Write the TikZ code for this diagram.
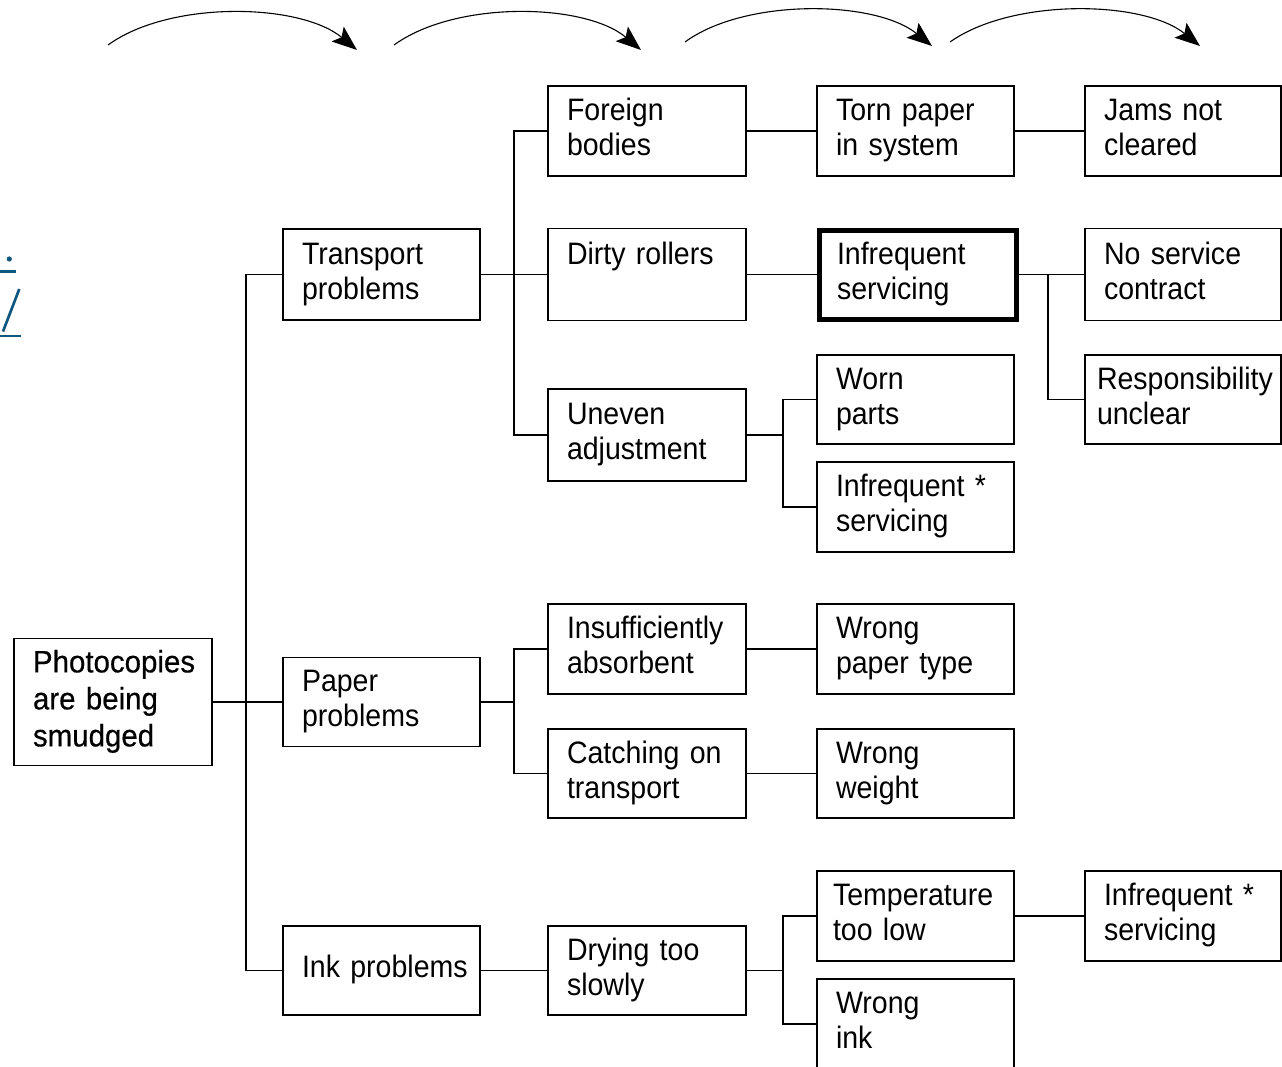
\documentclass[tikz,border=0pt]{standalone}
\usepackage{fontspec}
\setmainfont{Liberation Sans}[FakeStretch=0.92]
\newfontfamily\rootfont{Liberation Sans}[FakeStretch=0.95,FakeBold=0.5]
\usetikzlibrary{arrows.meta}
\definecolor{linkblue}{RGB}{14,88,128}
\begin{document}
\begin{tikzpicture}[x=1pt,y=-1pt,
  box/.style={draw, line width=1.1pt, align=left, inner xsep=19pt, inner ysep=0pt,
    text width=159pt, minimum height=90pt, font=\fontsize{31}{35}\selectfont,
    execute at begin node=\strut, execute at end node=\strut},
  conn/.style={line width=1.1pt},
  arc/.style={line width=1.1pt, -{Stealth[length=25pt,width=19pt,inset=5pt]}}]
\useasboundingbox (0,0) rectangle (1282,1066);

% blue fragment at left edge
\begin{scope}[linkblue, line width=2.7pt]
\fill (9.3,259) circle (2.6pt);
\draw (0,271.5) -- (15.7,271.5);
\draw (3,331.5) -- (19.3,289);
\draw (0,336) -- (20.7,336);
\end{scope}

% top arrows
\coordinate (a1s) at (108,45);  \coordinate (a1e) at (357,50);
\coordinate (a2s) at (394,45);  \coordinate (a2e) at (641,50);
\coordinate (a3s) at (685,42);  \coordinate (a3e) at (932,46);
\coordinate (a4s) at (950,42);  \coordinate (a4e) at (1200,46);
\draw[arc] (a1s) .. controls (170,0) and (300,3) .. (a1e);
\draw[arc] (a2s) .. controls (456,0) and (585,3) .. (a2e);
\draw[arc] (a3s) .. controls (745,-2) and (875,0) .. (a3e);
\draw[arc] (a4s) .. controls (1012,-2) and (1143,0) .. (a4e);

% column 1
\node[box, text width=160pt, minimum height=127pt,
  font=\rootfont\fontsize{31}{37}\selectfont] (root) at (113,702) {Photocopies\\are being\\smudged};
% column 2
\node[box, minimum height=91pt] (transport) at (381.5,274.5) {Transport\\problems};
\node[box, minimum height=89pt] (paper) at (381.5,702) {Paper\\problems};
\node[box, minimum height=89pt] (ink) at (381.5,970.5) {\mbox{Ink problems}};
% column 3
\node[box, text width=160pt] (foreign) at (647,131) {Foreign\\bodies};
\node[box, text width=160pt, minimum height=92pt] (dirty) at (647,274.5) {Dirty rollers\\\mbox{}};
\node[box, text width=160pt, minimum height=92pt] (uneven) at (647,435) {Uneven\\adjustment};
\node[box, text width=160pt] (insuff) at (647,649) {Insufficiently\\absorbent};
\node[box, text width=160pt, minimum height=89pt] (catching) at (647,773.5) {Catching on\\transport};
\node[box, text width=160pt, minimum height=89pt] (drying) at (647,970.5) {Drying too\\slowly};
% column 4
\node[box] (torn) at (915.5,131) {Torn paper\\in system};
\node[box, line width=5pt, inner xsep=17.5pt, text width=162pt, minimum height=89pt] (infreq) at (918,274.5) {Infrequent\\servicing};
\node[box, minimum height=89pt] (worn) at (915.5,399.5) {Worn\\parts};
\node[box] (infb) at (915.5,507) {Infrequent *\\servicing};
\node[box] (wpaper) at (915.5,649) {Wrong\\paper type};
\node[box, minimum height=89pt] (wweight) at (915.5,773.5) {Wrong\\weight};
\node[box, inner xsep=16pt, text width=165pt] (temp) at (915.5,916) {Temperature\\too low};
\node[box] (wink) at (915.5,1024) {Wrong\\ink};
% column 5
\node[box, text width=158pt] (jams) at (1183,131) {Jams not\\cleared};
\node[box, text width=158pt, minimum height=92pt] (noserv) at (1183,274.5) {No service\\contract};
\node[box, inner xsep=12pt, text width=172pt, minimum height=89pt] (resp) at (1183,399.5) {Responsibility\\unclear};
\node[box, text width=158pt] (infc) at (1183,916) {Infrequent *\\servicing};

% bus coordinates
\coordinate (b1) at (246,0);
\coordinate (b2) at (514,0);
\coordinate (b3) at (783,0);
\coordinate (b4) at (1048,0);

% connectors
\draw[conn] (root.east) -- (paper.west);
\draw[conn] (transport.west) -- (transport.west -| b1) -- (ink.west -| b1) -- (ink.west);

\draw[conn] (transport.east) -- (dirty.west);
\draw[conn] (foreign.west) -- (foreign.west -| b2) -- (uneven.west -| b2) -- (uneven.west);
\draw[conn] (paper.east) -- (paper.east -| b2);
\draw[conn] (insuff.west) -- (insuff.west -| b2) -- (catching.west -| b2) -- (catching.west);
\draw[conn] (ink.east) -- (drying.west);

\draw[conn] (foreign.east) -- (torn.west);
\draw[conn] (dirty.east) -- (infreq.west);
\draw[conn] (uneven.east) -- (uneven.east -| b3);
\draw[conn] (worn.west) -- (worn.west -| b3) -- (infb.west -| b3) -- (infb.west);
\draw[conn] (insuff.east) -- (wpaper.west);
\draw[conn] (catching.east) -- (wweight.west);
\draw[conn] (drying.east) -- (drying.east -| b3);
\draw[conn] (temp.west) -- (temp.west -| b3) -- (wink.west -| b3) -- (wink.west);

\draw[conn] (torn.east) -- (jams.west);
\draw[conn] (infreq.east) -- (noserv.west);
\draw[conn] (infreq.east -| b4) -- (resp.west -| b4) -- (resp.west);
\draw[conn] (temp.east) -- (infc.west);
\end{tikzpicture}
\end{document}
